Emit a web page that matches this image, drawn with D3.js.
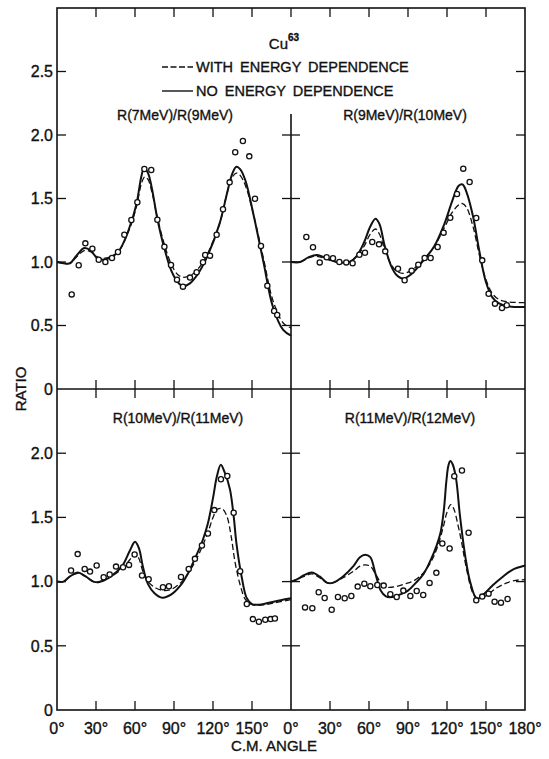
<!DOCTYPE html>
<html><head><meta charset="utf-8">
<script src="https://cdn.jsdelivr.net/npm/d3@7/dist/d3.min.js"></script>
<style>
html,body{margin:0;padding:0;background:#fff;}
text{font-family:"Liberation Sans",Arial,sans-serif;fill:#111;stroke:#111;stroke-width:0.35px;}
</style></head>
<body><svg id="c" width="549" height="759"></svg>
<script>
// ---------- data ----------
const panelTitles = ["R(7MeV)/R(9MeV)", "R(9MeV)/R(10MeV)", "R(10MeV)/R(11MeV)", "R(11MeV)/R(12MeV)"];
const xTicks = [0, 30, 60, 90, 120, 150, 180];
const yTicksTop = [0, 0.5, 1.0, 1.5, 2.0, 2.5];
const yTicksBot = [0, 0.5, 1.0, 1.5, 2.0];
const legendLabels = ["WITH ENERGY DEPENDENCE", "NO ENERGY DEPENDENCE"];

// R(7)/R(9)
const solidA = [[0,1.0],[5,0.99],[10,0.99],[15,1.05],[21,1.11],[26,1.09],[31,1.03],[37,1.02],[47,1.08],[55,1.25],[61,1.45],[65,1.68],[67,1.74],[70,1.70],[73,1.58],[77,1.35],[82,1.13],[88,0.93],[93,0.84],[97,0.81],[102,0.83],[108,0.9],[115,1.03],[125,1.3],[131,1.55],[135,1.70],[138,1.75],[141,1.73],[145,1.64],[151,1.38],[159,0.99],[166,0.65],[174,0.465],[180,0.42]];
const dashA = [[0,1.0],[5,0.99],[10,0.99],[15,1.04],[21,1.09],[26,1.08],[31,1.04],[37,1.03],[47,1.08],[55,1.24],[61,1.43],[65,1.62],[67.5,1.67],[70,1.65],[73,1.55],[77,1.36],[82,1.16],[88,0.98],[93,0.9],[97,0.88],[102,0.89],[108,0.94],[115,1.05],[125,1.3],[131,1.55],[135,1.67],[138,1.70],[141,1.68],[145,1.6],[151,1.38],[159,1.02],[166,0.7],[174,0.52],[180,0.48]];
const ptsA = [[11.3,0.745],[16.7,0.974],[21.8,1.147],[27.2,1.105],[32.1,1.018],[37.2,1.0],[42.3,1.031],[46.9,1.079],[51.8,1.215],[57.2,1.331],[61.8,1.47],[67.2,1.732],[72.5,1.724],[77.2,1.333],[82.6,1.12],[87.7,0.976],[92.3,0.861],[96.9,0.806],[102.3,0.877],[107.4,0.919],[112.3,0.998],[114,1.055],[117.7,1.05],[122.8,1.215],[127.7,1.415],[132.8,1.627],[137.1,1.864],[143,1.953],[147.9,1.832],[152.3,1.498],[156.9,1.126],[161.8,0.813],[167,0.614],[169.4,0.583]];

// R(9)/R(10)
const solidB = [[0,1.0],[7,1.0],[14,1.04],[20,1.055],[27,1.03],[35,1.0],[45,1.0],[50,1.04],[56,1.15],[61,1.28],[65,1.34],[68,1.3],[72,1.13],[77,0.97],[81,0.9],[86,0.87],[92,0.9],[100,0.99],[110,1.12],[118,1.3],[124,1.48],[129,1.6],[132,1.61],[135,1.55],[140,1.36],[145,1.08],[150,0.84],[155,0.72],[160,0.675],[168,0.65],[180,0.645]];
const dashB = [[0,1.0],[7,1.0],[14,1.035],[20,1.045],[27,1.025],[35,1.0],[45,1.0],[50,1.04],[56,1.12],[61,1.22],[65,1.26],[68,1.22],[72,1.1],[77,0.98],[81,0.93],[86,0.91],[92,0.93],[100,1.0],[110,1.12],[118,1.27],[124,1.39],[129,1.45],[132,1.46],[135,1.43],[140,1.28],[145,1.05],[150,0.86],[155,0.75],[160,0.705],[168,0.685],[180,0.68]];
const ptsB = [[11.8,1.197],[16.9,1.116],[22.1,0.997],[27.4,1.037],[32.3,1.029],[37.2,1.0],[42.5,0.997],[47.4,0.99],[52.6,1.057],[56.9,1.073],[62.5,1.157],[67.7,1.139],[72.5,1.084],[82.3,0.947],[87.4,0.856],[92.8,0.932],[97.9,0.979],[102.8,1.031],[107.4,1.031],[112.8,1.118],[117.4,1.231],[122.5,1.349],[127.7,1.535],[132.5,1.735],[137.4,1.63],[142.5,1.346],[147.1,1.013],[152,0.75],[156.9,0.672],[162.3,0.638],[166,0.659]];

// R(10)/R(11)
const solidC = [[0,1.0],[5,1.0],[10,1.04],[16,1.07],[22,1.04],[28,1.0],[32,0.995],[40,1.03],[50,1.12],[56,1.24],[60,1.31],[63,1.26],[66,1.12],[70,0.98],[75,0.91],[81,0.875],[88,0.9],[95,0.97],[100,1.05],[107,1.2],[112,1.32],[116,1.45],[120,1.65],[123,1.82],[126,1.91],[129,1.85],[133,1.72],[136,1.5],[138,1.3],[142,1.04],[146,0.87],[150,0.825],[155,0.82],[163,0.835],[172,0.855],[180,0.87]];
const dashC = [[0,1.0],[5,1.0],[10,1.04],[16,1.065],[22,1.04],[28,1.0],[32,1.0],[40,1.03],[50,1.1],[56,1.17],[60,1.22],[63,1.18],[66,1.08],[70,1.0],[76,0.95],[82,0.93],[88,0.94],[95,0.99],[100,1.05],[107,1.17],[112,1.28],[116,1.38],[120,1.5],[123,1.56],[126,1.57],[128,1.56],[131,1.5],[134,1.35],[137,1.15],[141,0.97],[145,0.86],[150,0.82],[160,0.82],[170,0.84],[180,0.86]];
const ptsC = [[10.8,1.086],[15.9,1.214],[21.3,1.099],[25.4,1.078],[30.5,1.125],[35.9,1.034],[40.5,1.055],[45.4,1.117],[50.8,1.112],[55.4,1.13],[59.7,1.211],[65.4,1.047],[70.5,1.018],[81.5,0.956],[86.1,0.964],[95.4,1.036],[101.3,1.099],[106.1,1.177],[111.5,1.281],[116.1,1.375],[121,1.557],[126.1,1.797],[131,1.823],[135.9,1.536],[140.9,1.081],[146,0.826],[150.7,0.708],[155.3,0.687],[160.2,0.703],[164.3,0.708],[167.6,0.713]];

// R(11)/R(12)
const solidD = [[0,1.0],[5,1.02],[10,1.05],[16,1.07],[22,1.04],[28,0.99],[32,0.99],[40,1.04],[48,1.12],[53,1.19],[57,1.21],[61,1.19],[65,1.06],[69,0.93],[73,0.885],[78,0.88],[84,0.9],[90,0.93],[96,0.99],[102,1.06],[108,1.18],[112,1.28],[115,1.38],[117.5,1.55],[119.5,1.78],[121,1.9],[122.5,1.94],[124.5,1.91],[127,1.8],[130,1.51],[134,1.2],[138,0.99],[143,0.865],[148,0.9],[155,0.97],[162,1.03],[170,1.09],[180,1.125]];
const dashD = [[0,1.0],[5,1.02],[10,1.04],[16,1.06],[22,1.03],[28,0.99],[32,0.99],[40,1.03],[48,1.08],[53,1.12],[57,1.13],[61,1.12],[65,1.06],[70,0.98],[75,0.955],[80,0.96],[87,0.98],[95,1.01],[102,1.07],[108,1.16],[113,1.28],[117,1.42],[120,1.54],[123,1.6],[125.5,1.56],[128,1.46],[131,1.32],[135,1.1],[140,0.91],[144,0.87],[150,0.89],[158,0.95],[166,0.99],[173,1.01],[180,1.015]];
const ptsD = [[10.8,0.799],[16.4,0.792],[21.3,0.917],[25.9,0.872],[31.3,0.781],[36.1,0.88],[41.3,0.87],[46.4,0.888],[51.3,0.961],[56.4,0.984],[61,0.964],[66.4,0.974],[71.3,0.969],[76.4,0.901],[81.3,0.88],[86.4,0.93],[91.8,0.888],[96.7,0.927],[101.7,0.896],[106.6,0.99],[111.8,1.068],[116.4,1.297],[122,1.258],[125.6,1.82],[131.5,1.865],[136.6,1.38],[142.5,0.854],[147.1,0.883],[152,0.906],[156.6,0.844],[161.5,0.836],[166.6,0.865]];

// ---------- layout ----------
const svg = d3.select("#c");
const X0 = 57, XM = 291, X1 = 525;
const YT = 8, YM = 389, YB = 710;
const xL = d3.scaleLinear().domain([0,180]).range([X0, XM]);
const xR = d3.scaleLinear().domain([0,180]).range([XM, X1]);
const yT = d3.scaleLinear().domain([0,3]).range([YM, YT]);
const yB = d3.scaleLinear().domain([0,2.5]).range([YB, YM]);
const ink = "#111";
const TL = 9;

const g = svg.append("g");
// frame
g.append("rect").attr("x",X0).attr("y",YT).attr("width",X1-X0).attr("height",YB-YT)
  .attr("fill","none").attr("stroke",ink).attr("stroke-width",1.6);
g.append("line").attr("x1",X0).attr("x2",X1).attr("y1",YM).attr("y2",YM).attr("stroke",ink).attr("stroke-width",1.6);
g.append("line").attr("x1",XM).attr("x2",XM).attr("y1",114).attr("y2",YB).attr("stroke",ink).attr("stroke-width",1.6);

function tickLine(x1,y1,x2,y2){ g.append("line").attr("x1",x1).attr("y1",y1).attr("x2",x2).attr("y2",y2).attr("stroke",ink).attr("stroke-width",1.3); }

// x ticks
[xL, xR].forEach(xs => {
  xTicks.filter(t => t>0 && t<180).forEach(t => {
    const x = xs(t);
    tickLine(x, YT, x, YT+TL);
    tickLine(x, YM-TL, x, YM+TL);
    tickLine(x, YB-TL, x, YB);
  });
});
tickLine(XM, YT, XM, YT+TL);

// y ticks
yTicksTop.filter(v => v>0).forEach(v => {
  const y = yT(v);
  tickLine(X0, y, X0+TL, y);
  tickLine(X1-TL, y, X1, y);
  if (y > 114) tickLine(XM-TL, y, XM+TL, y);
});
yTicksBot.filter(v => v>0).forEach(v => {
  const y = yB(v);
  tickLine(X0, y, X0+TL, y);
  tickLine(X1-TL, y, X1, y);
  tickLine(XM-TL, y, XM+TL, y);
});

// y tick labels
const fmt = v => v === 0 ? "0" : v.toFixed(1);
yTicksTop.forEach(v => {
  g.append("text").attr("x", X0-4).attr("y", yT(v)).attr("dy","0.36em").attr("text-anchor","end")
   .attr("font-size",16).text(fmt(v));
});
yTicksBot.forEach(v => {
  g.append("text").attr("x", X0-4).attr("y", yB(v)).attr("dy","0.36em").attr("text-anchor","end")
   .attr("font-size",16).text(fmt(v));
});
// x tick labels
xTicks.filter(t => t<180).forEach(t => {
  g.append("text").attr("x", xL(t)).attr("y", 728).attr("dy","0.36em").attr("text-anchor","middle")
   .attr("font-size",16).text(t + "°");
});
xTicks.forEach(t => {
  g.append("text").attr("x", xR(t)).attr("y", 728).attr("dy","0.36em").attr("text-anchor","middle")
   .attr("font-size",16).text(t + "°");
});

// axis titles
g.append("text").attr("x", 274).attr("y", 746).attr("dy","0.36em").attr("text-anchor","middle")
  .attr("font-size",15).text("C.M. ANGLE");
g.append("text").attr("transform","translate(21,389) rotate(-90)").attr("dy","0.36em").attr("text-anchor","middle")
  .attr("font-size",15).text("RATIO");

// header
const cu = g.append("text").attr("x", 284).attr("y", 49).attr("text-anchor","middle").attr("font-size",15);
cu.append("tspan").text("Cu");
cu.append("tspan").attr("dy",-8).attr("font-size",10).attr("font-weight","bold").text("63");

// legend
const legY = [67, 91];
g.append("line").attr("x1",162).attr("x2",193).attr("y1",legY[0]).attr("y2",legY[0]).attr("stroke",ink).attr("stroke-width",1.4).attr("stroke-dasharray","6,2.5");
g.append("line").attr("x1",162).attr("x2",193).attr("y1",legY[1]).attr("y2",legY[1]).attr("stroke",ink).attr("stroke-width",1.4);
legendLabels.forEach((l,i) => {
  g.append("text").attr("x",196).attr("y",legY[i]).attr("dy","0.36em").attr("font-size",14.5)
    .attr("word-spacing",3).text(l);
});

// panel titles
const titlePos = [[175,115],[405,115],[178,418],[410,418]];
panelTitles.forEach((t,i) => {
  g.append("text").attr("x",titlePos[i][0]).attr("y",titlePos[i][1]).attr("dy","0.36em")
   .attr("text-anchor","middle").attr("font-size",14).text(t);
});

// curves
const panels = [
  {xs:xL, ys:yT, solid:solidA, dash:dashA, pts:ptsA},
  {xs:xR, ys:yT, solid:solidB, dash:dashB, pts:ptsB},
  {xs:xL, ys:yB, solid:solidC, dash:dashC, pts:ptsC},
  {xs:xR, ys:yB, solid:solidD, dash:dashD, pts:ptsD}
];
panels.forEach(p => {
  const line = d3.line().x(d => p.xs(d[0])).y(d => p.ys(d[1])).curve(d3.curveCatmullRom.alpha(0.5));
  g.append("path").attr("d", line(p.dash)).attr("fill","none").attr("stroke",ink)
    .attr("stroke-width",1.3).attr("stroke-dasharray","6,3");
  g.append("path").attr("d", line(p.solid)).attr("fill","none").attr("stroke",ink)
    .attr("stroke-width",2);
  g.selectAll(null).data(p.pts).enter().append("circle")
    .attr("cx", d => p.xs(d[0])).attr("cy", d => p.ys(d[1])).attr("r",2.6)
    .attr("fill","#fff").attr("stroke",ink).attr("stroke-width",1.3);
});
</script></body></html>
